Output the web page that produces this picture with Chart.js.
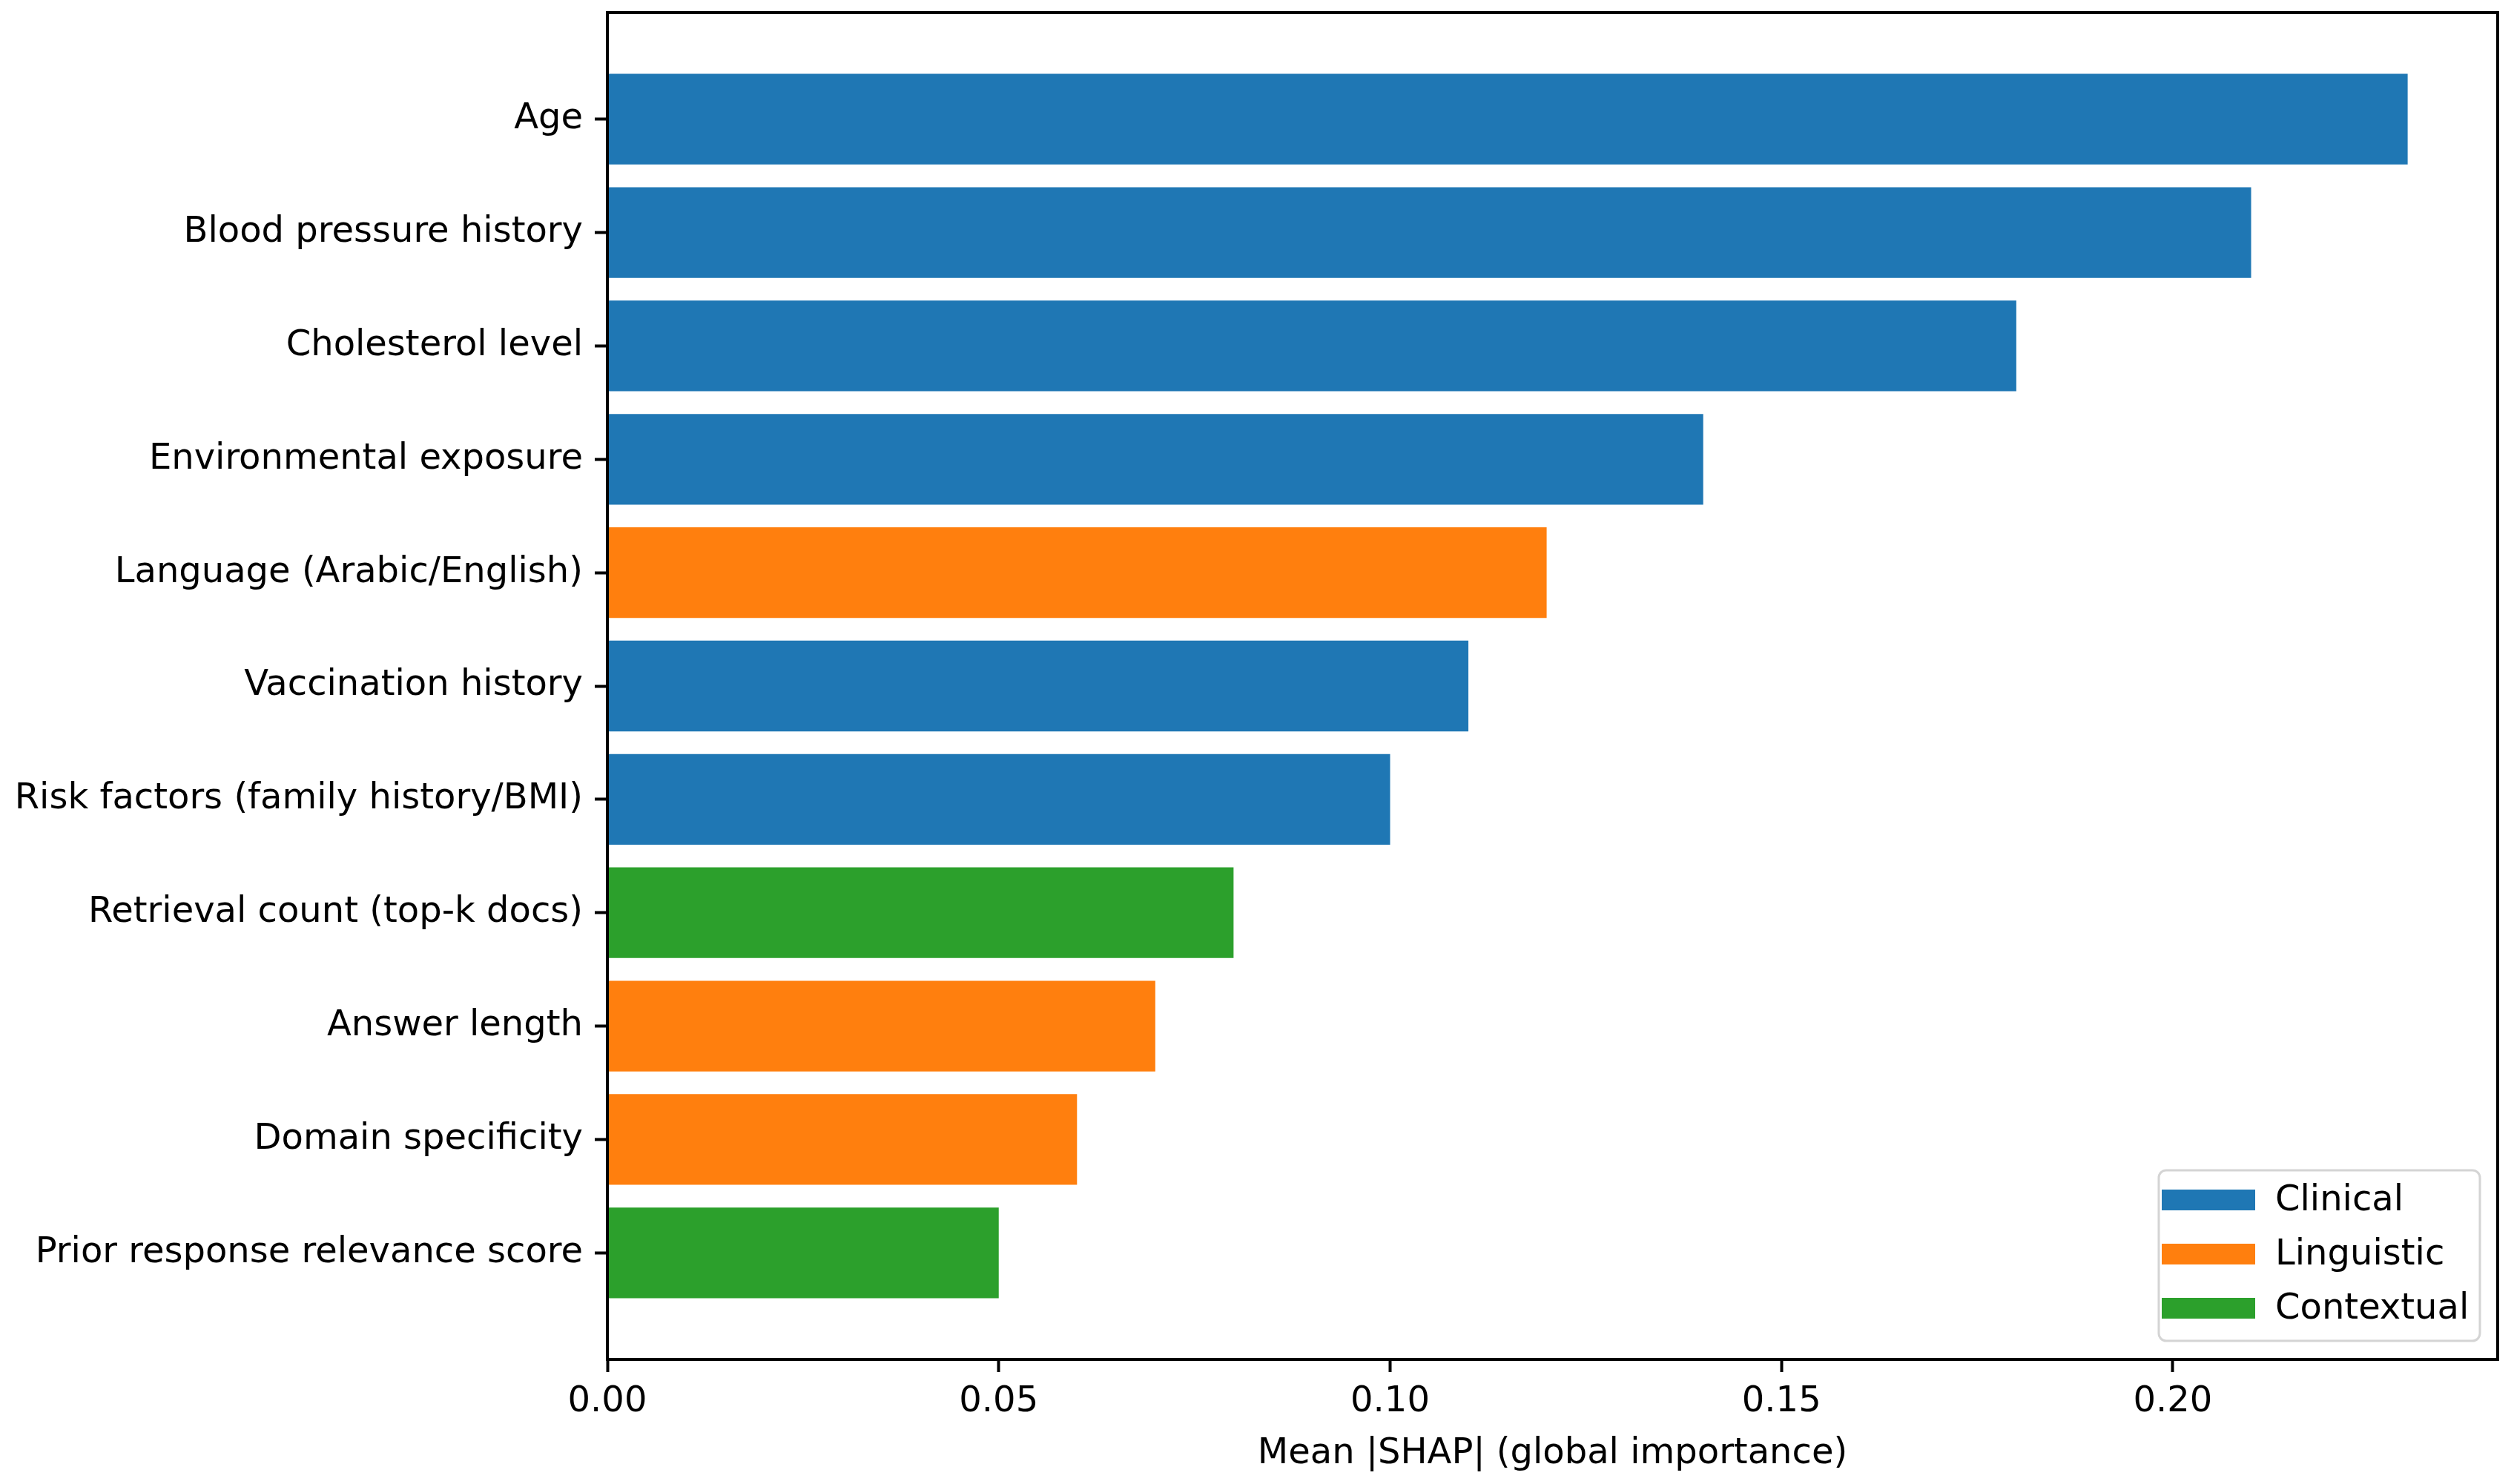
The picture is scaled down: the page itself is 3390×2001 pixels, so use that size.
<!DOCTYPE html>
<html>
<head>
<meta charset="utf-8">
<script src="https://cdn.jsdelivr.net/npm/chart.js@4"></script>
<style>
  html, body { margin: 0; padding: 0; background: #fff; }
  canvas { display: block; }
</style>
</head>
<body>
<canvas id="myChart" width="3390" height="2001"></canvas>
<script>
var features = [
    "Age",
    "Blood pressure history",
    "Cholesterol level",
    "Environmental exposure",
    "Language (Arabic/English)",
    "Vaccination history",
    "Risk factors (family history/BMI)",
    "Retrieval count (top-k docs)",
    "Answer length",
    "Domain specificity",
    "Prior response relevance score"
];
var importance = [0.23, 0.21, 0.18, 0.14, 0.12, 0.11, 0.10, 0.08, 0.07, 0.06, 0.05];
var groups = ["Clinical", "Clinical", "Clinical", "Clinical", "Linguistic", "Clinical",
    "Clinical", "Contextual", "Linguistic", "Linguistic", "Contextual"];
var groupNames = ["Clinical", "Linguistic", "Contextual"];
var groupColors = ["#1f77b4", "#ff7f0e", "#2ca02c"];
var xTicks = [0.00, 0.05, 0.10, 0.15, 0.20];

var FONT = "'DejaVu Sans', sans-serif";

var datasets = groupNames.map(function (g, k) {
    var pts = [];
    for (var i = 0; i < features.length; i++) {
        if (groups[i] === g) pts.push({ x: importance[i], y: i });
    }
    return {
        label: g,
        data: pts,
        backgroundColor: groupColors[k],
        borderWidth: 0
    };
});

// top/right spines
var frame = {
    id: "frame",
    afterDraw: function (chart) {
        var a = chart.chartArea, ctx = chart.ctx;
        ctx.save();
        ctx.strokeStyle = "#000";
        ctx.lineWidth = 4;
        ctx.strokeRect(a.left, a.top, a.right - a.left, a.bottom - a.top);
        ctx.restore();
    }
};

// matplotlib-style legend in lower right
var boxLegend = {
    id: "boxLegend",
    afterDraw: function (chart) {
        var a = chart.chartArea, ctx = chart.ctx;
        var w = 433, h = 230;
        var x0 = a.right - 24 - w, y0 = a.bottom - 25 - h;
        ctx.save();
        ctx.beginPath();
        ctx.roundRect(x0, y0, w, h, 10);
        ctx.fillStyle = "rgba(255,255,255,0.85)";
        ctx.fill();
        ctx.strokeStyle = "#d4d4d4";
        ctx.lineWidth = 3;
        ctx.stroke();
        ctx.font = "48px " + FONT;
        ctx.textBaseline = "middle";
        ctx.textAlign = "left";
        chart.data.datasets.forEach(function (ds, k) {
            var cy = y0 + 40 + k * 73;
            ctx.fillStyle = ds.backgroundColor;
            ctx.fillRect(x0 + 4, cy - 14, 126, 28);
            ctx.fillStyle = "#000";
            ctx.fillText(ds.label, x0 + 157, cy + 2);
        });
        ctx.restore();
    }
};

var ctx = document.getElementById("myChart").getContext("2d");
var myChart = new Chart(ctx, {
    type: "bar",
    data: { datasets: datasets },
    options: {
        indexAxis: "y",
        responsive: false,
        animation: false,
        devicePixelRatio: 1,
        grouped: false,
        categoryPercentage: 1.0,
        barPercentage: 0.8,
        layout: { padding: { left: 0, top: 17, right: 22, bottom: 0 } },
        plugins: {
            legend: { display: false },
            tooltip: { enabled: false }
        },
        scales: {
            x: {
                type: "linear",
                min: 0,
                max: 0.2415,
                afterBuildTicks: function (s) {
                    s.ticks = xTicks.map(function (v) { return { value: v }; });
                },
                afterFit: function (s) { s.height = 168; },
                ticks: {
                    font: { family: FONT, size: 48 },
                    color: "#000",
                    padding: 12,
                    maxRotation: 0,
                    callback: function (v) { return v.toFixed(2); }
                },
                grid: {
                    drawOnChartArea: false,
                    drawTicks: true,
                    tickLength: 17,
                    tickWidth: 4,
                    tickColor: "#000"
                },
                border: { display: true, color: "#000", width: 4 },
                title: {
                    display: true,
                    text: "Mean |SHAP| (global importance)",
                    font: { family: FONT, size: 48 },
                    color: "#000",
                    padding: { top: 0, bottom: 12 }
                }
            },
            y: {
                type: "linear",
                reverse: true,
                offset: false,
                min: -0.94,
                max: 10.94,
                afterBuildTicks: function (s) {
                    s.ticks = features.map(function (f, i) { return { value: i }; });
                },
                afterFit: function (s) {
                    s.width = 819;
                    s.paddingTop = 0;
                    s.paddingBottom = 0;
                },
                ticks: {
                    autoSkip: false,
                    font: { family: FONT, size: 48 },
                    color: "#000",
                    padding: 16,
                    callback: function (v) { return features[v]; }
                },
                grid: {
                    offset: false,
                    drawOnChartArea: false,
                    drawTicks: true,
                    tickLength: 17,
                    tickWidth: 4,
                    tickColor: "#000"
                },
                border: { display: true, color: "#000", width: 4 }
            }
        }
    },
    plugins: [frame, boxLegend]
});
</script>
</body>
</html>
